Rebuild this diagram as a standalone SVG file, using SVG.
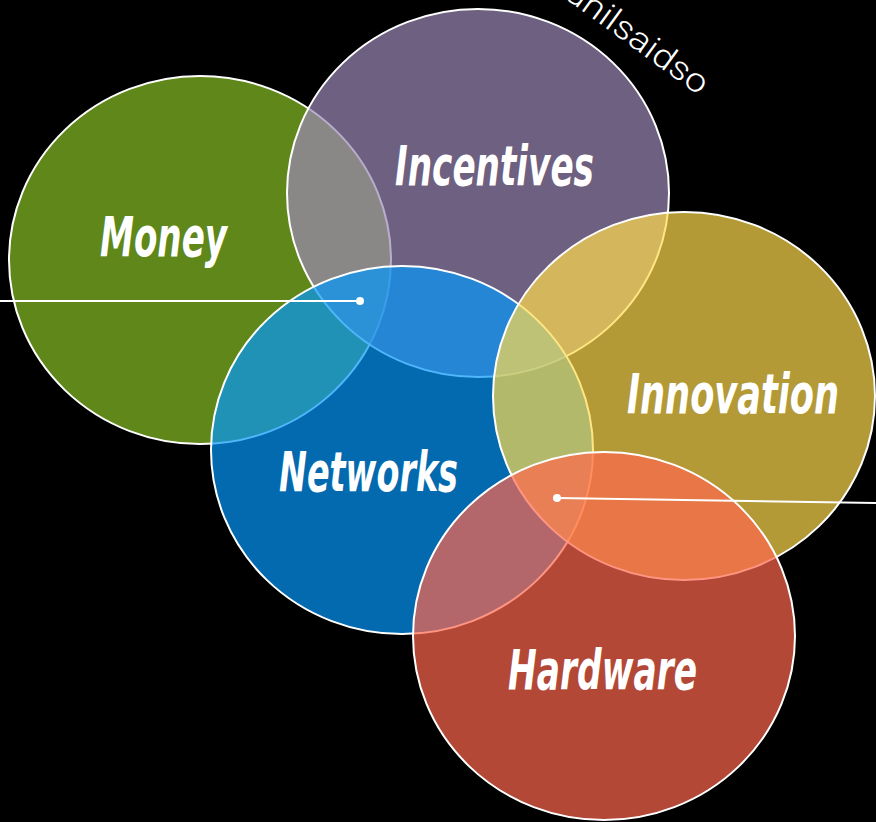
<svg xmlns="http://www.w3.org/2000/svg" width="876" height="822" viewBox="0 0 876 822">
<defs>
<style>
.c{stroke:#fff;stroke-width:2;fill-opacity:0.7}
.lbl{font-family:"DejaVu Sans Condensed","DejaVu Sans",sans-serif;font-weight:bold;font-style:italic;font-stretch:condensed;font-size:55px;fill:#fff}
.wm{font-family:Roboto,"Open Sans",sans-serif;font-weight:300;font-size:33px;fill:#fff}
.ln{stroke:#fff;stroke-width:2;fill:none}
</style>
</defs>
<rect width="876" height="822" fill="#000"/>
<text class="wm" transform="translate(563,-3) rotate(36)" textLength="168" lengthAdjust="spacingAndGlyphs">unilsaidso</text>
<g id="money">
<ellipse class="c" cx="200" cy="260" rx="191" ry="184" fill="#88c124"/>
<text class="lbl" x="100" y="256" textLength="127" lengthAdjust="spacingAndGlyphs">Money</text>
</g>
<g id="incentives">
<ellipse class="c" cx="478" cy="193" rx="191" ry="184" fill="#9d89b7"/>
<text class="lbl" x="395" y="185" textLength="199" lengthAdjust="spacingAndGlyphs">Incentives</text>
</g>
<g id="networks">
<ellipse class="c" cx="402" cy="450" rx="191" ry="184" fill="#0497fa"/>
<text class="lbl" x="279" y="491" textLength="179" lengthAdjust="spacingAndGlyphs">Networks</text>
</g>
<g id="innovation">
<ellipse class="c" cx="684" cy="396" rx="191" ry="184" fill="#ffdc4d"/>
<text class="lbl" x="627" y="413" textLength="212" lengthAdjust="spacingAndGlyphs">Innovation</text>
</g>
<g id="hardware">
<ellipse class="c" cx="604" cy="636" rx="191" ry="184" fill="#ff674d"/>
<text class="lbl" x="508" y="689" textLength="189" lengthAdjust="spacingAndGlyphs">Hardware</text>
</g>
<g id="connectors">
<line class="ln" x1="0" y1="301" x2="360" y2="301"/>
<circle cx="360" cy="301" r="4" fill="#fff"/>
<line class="ln" x1="557" y1="498" x2="876" y2="503"/>
<circle cx="557" cy="498" r="4" fill="#fff"/>
</g>
</svg>
